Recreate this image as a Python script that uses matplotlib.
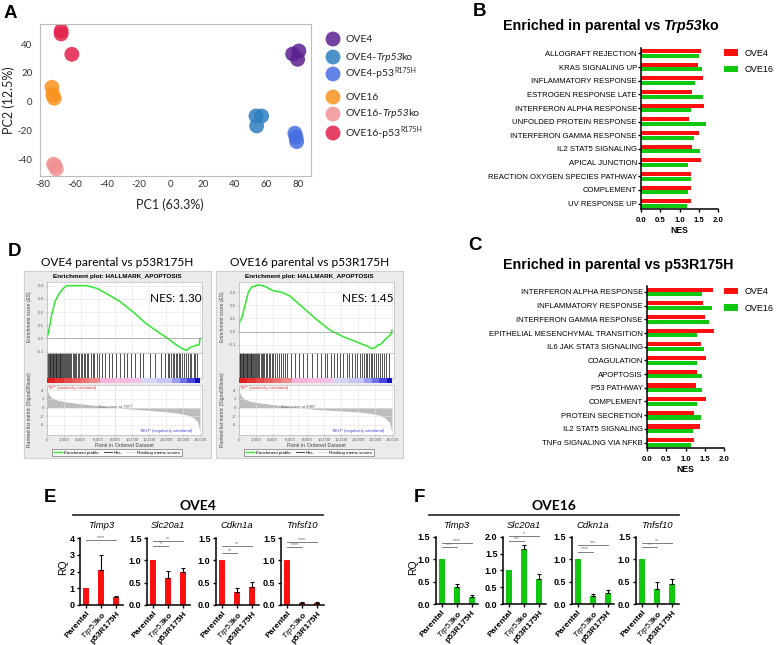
import matplotlib
matplotlib.use("Agg")
import matplotlib.pyplot as plt
import numpy as np
from matplotlib.lines import Line2D
from matplotlib.text import Annotation

plt.rcParams['font.family'] = 'Liberation Sans'
plt.rcParams['axes.unicode_minus'] = False
plt.rcParams['mathtext.fontset'] = 'custom'
plt.rcParams['mathtext.rm'] = 'Liberation Sans'
plt.rcParams['mathtext.it'] = 'Liberation Sans:italic'
plt.rcParams['mathtext.bf'] = 'Liberation Sans:bold'
plt.rcParams['mathtext.bfit'] = 'Liberation Sans:bold:italic'

W, H = 779, 645
fig = plt.figure(figsize=(W / 100, H / 100), dpi=100)


def box(x0, y0, x1, y1):
    # pixel box (top-left origin) -> figure fraction rect
    return [x0 / W, 1 - y1 / H, (x1 - x0) / W, (y1 - y0) / H]


def ftext(x, y, s, **kw):
    return fig.text(x / W, 1 - y / H, s, **kw)


def rich(x, y, parts, **kw):
    s0, p0 = parts[0]
    t = ftext(x, y, s0, va='center', ha='left', **{**kw, **p0})
    for s, p in parts[1:]:
        p = dict(p)
        off = p.pop('off', (0, 0))
        a = Annotation(s, xy=(1, 0), xycoords=t, xytext=off, textcoords='offset points',
                       va='bottom', ha='left', **{**kw, **p})
        fig.add_artist(a)
        t = a
    return t


# ---------------- data ----------------
# A: PCA
pca_groups = ['OVE4', 'OVE4-Trp53ko', 'OVE4-p53R175H', 'OVE16', 'OVE16-Trp53ko', 'OVE16-p53R175H']
pca_colors = ['#5b2190', '#2d7fbf', '#466ee2', '#f7921e', '#f19393', '#e2214a']
pc1 = [[76.5, 80.4, 79.6], [53.5, 57.0, 53.9], [77.9, 78.6, 79.0],
       [-74.6, -74.0, -73.2], [-73.6, -72.6, -71.9], [-68.8, -68.8, -62.1]]
pc2 = [[33.2, 35.3, 29.5], [-10.0, -10.0, -16.9], [-22.0, -24.8, -27.8],
       [10.0, 4.7, 2.4], [-43.6, -44.6, -46.9], [49.3, 47.2, 33.0]]

# B: parental vs Trp53ko
b_terms = ['ALLOGRAFT REJECTION', 'KRAS SIGNALING UP', 'INFLAMMATORY RESPONSE',
           'ESTROGEN RESPONSE LATE', 'INTERFERON ALPHA RESPONSE', 'UNFOLDED PROTEIN RESPONSE',
           'INTERFERON GAMMA RESPONSE', 'IL2 STAT5 SIGNALING', 'APICAL JUNCTION',
           'REACTION OXYGEN SPECIES PATHWAY', 'COMPLEMENT', 'UV RESPONSE UP']
b_ove4 = [1.57, 1.48, 1.62, 1.33, 1.63, 1.25, 1.50, 1.32, 1.55, 1.29, 1.30, 1.31]
b_ove16 = [1.50, 1.59, 1.41, 1.60, 1.31, 1.68, 1.37, 1.52, 1.21, 1.29, 1.21, 1.19]

# C: parental vs p53R175H
c_terms = ['INTERFERON ALPHA RESPONSE', 'INFLAMMATORY RESPONSE', 'INTERFERON GAMMA RESPONSE',
           'EPITHELIAL MESENCHYMAL TRANSITION', 'IL6 JAK STAT3 SIGNALING', 'COAGULATION',
           'APOPTOSIS', 'P53 PATHWAY', 'COMPLEMENT', 'PROTEIN SECRETION',
           'IL2 STAT5 SIGNALING', 'TNFα SIGNALING VIA NFKB']
c_ove4 = [1.72, 1.46, 1.51, 1.73, 1.39, 1.52, 1.30, 1.28, 1.52, 1.23, 1.37, 1.22]
c_ove16 = [1.44, 1.70, 1.61, 1.31, 1.49, 1.31, 1.44, 1.43, 1.31, 1.39, 1.19, 1.14]

# D: GSEA HALLMARK_APOPTOSIS
d4_rank = [0, 195, 586, 977, 1367, 1953, 2344, 3125, 4688, 5859, 7031, 8594, 10156,
           11719, 13281, 14453, 15234, 16016, 16406, 16800, 17188, 17578, 17890, 18000]
d4_es = [0.0, 0.04, 0.18, 0.28, 0.33, 0.38, 0.40, 0.40, 0.40, 0.38, 0.34, 0.28, 0.20,
         0.11, 0.04, -0.01, -0.05, -0.08, -0.09, -0.07, -0.06, -0.05, -0.05, 0.0]
d16_rank = [0, 120, 350, 740, 1130, 1530, 2310, 3090, 4070, 5060, 6040, 7600, 9180,
            10740, 12310, 13880, 15060, 15650, 16040, 16420, 16620, 17210, 17800, 18000]
d16_es = [0.0, 0.08, 0.10, 0.20, 0.30, 0.34, 0.356, 0.344, 0.31, 0.30, 0.27, 0.18, 0.09,
          0.01, -0.04, -0.08, -0.11, -0.13, -0.12, -0.10, -0.10, -0.06, -0.025, 0.01]
d4_hits = [50, 150, 260, 330, 420, 500, 610, 700, 790, 880, 960, 1050, 1130, 1240, 1320,
           1410, 1530, 1600, 1710, 1800, 1920, 2010, 2150, 2240, 2380, 2500, 2630, 2760,
           2900, 3050, 3180, 3330, 3470, 3620, 3800, 3980, 4150, 4340, 4520, 4700, 4900,
           5150, 5380, 5600, 5850, 6150, 6480, 6900, 7350, 7700, 8100, 8600, 9050, 9400,
           9900, 10400, 10900, 11300, 12100, 12700, 13400, 13900, 14200, 14400, 14600,
           14800, 14950, 15150, 15350, 15500, 15700, 15900, 16150, 16350, 16600, 16800,
           17000, 17250, 17450, 17650]
d16_hits = [30, 120, 210, 300, 390, 470, 560, 650, 740, 830, 920, 1010, 1110, 1200, 1300,
            1390, 1490, 1600, 1700, 1810, 1920, 2040, 2160, 2290, 2420, 2560, 2700, 2850,
            3000, 3160, 3330, 3500, 3680, 3870, 4060, 4260, 4470, 4690, 4920, 5160, 5420,
            5700, 6100, 6600, 7100, 7500, 8000, 8600, 9200, 9700, 10100, 10400, 10800,
            11200, 11500, 11900, 12300, 12700, 13000, 13300, 13600, 13900, 14200, 14500,
            14700, 14900, 15100, 15300, 15500, 15700, 15900, 16100, 16350, 16600, 16850,
            17100, 17350, 17600]
cbar_edges = [0, 1000, 2000, 3000, 4000, 5000, 6200, 8000, 10000, 11100, 13000, 14700,
              15600, 16500, 17400, 18000]
cbar_colors = ['#e21e1e', '#e53434', '#e84848', '#eb5e5e', '#ee7474', '#f18c8c', '#f5b4da',
               '#f4bde0', '#f0c2e8', '#d4d4f6', '#c6c6f4', '#9c9cf0', '#7070ea', '#4646e2',
               '#1010c4']
d4_mrank = [0, 100, 300, 600, 1000, 1500, 2500, 4000, 6000, 7977, 10000, 12000, 14000,
            15500, 16500, 17200, 17700, 18000]
d4_metric = [5.0, 3.8, 2.9, 2.3, 1.9, 1.6, 1.25, 0.9, 0.45, 0.0, -0.35, -0.65, -0.95,
             -1.3, -1.7, -2.3, -3.2, -5.5]
d16_mrank = [0, 100, 300, 600, 1000, 1500, 2500, 4000, 6000, 6987, 9000, 11500, 14000,
             15500, 16500, 17200, 17700, 18000]
d16_metric = [5.0, 3.6, 2.7, 2.1, 1.7, 1.4, 1.05, 0.7, 0.25, 0.0, -0.4, -0.7, -1.0,
              -1.35, -1.75, -2.4, -3.4, -5.8]

# E / F: qPCR
genes = ['Timp3', 'Slc20a1', 'Cdkn1a', 'Tnfsf10']
conds = ['Parental', r'$\mathit{Trp53}\mathbf{ko}$', 'p53R175H']
e_rq = [[1.0, 2.1, 0.47], [1.0, 0.6, 0.73], [1.0, 0.28, 0.41], [1.0, 0.05, 0.05]]
e_err = [[0, 0.9, 0.09], [0, 0.16, 0.1], [0, 0.1, 0.1], [0, 0.015, 0.015]]
e_ymax = [4, 1.5, 1.5, 1.5]
e_sig = [[(0, 2, 3.9, '****')],
         [(0, 1, 1.32, '*'), (0, 2, 1.44, '**')],
         [(0, 1, 1.17, '**'), (0, 2, 1.32, '**')],
         [(0, 1, 1.29, '****'), (0, 2, 1.40, '****')]]
f_rq = [[1.0, 0.37, 0.15], [1.0, 1.63, 0.73], [1.0, 0.18, 0.24], [1.0, 0.33, 0.45]]
f_err = [[0, 0.07, 0.05], [0, 0.11, 0.15], [0, 0.035, 0.07], [0, 0.15, 0.11]]
f_ymax = [1.5, 2.0, 1.5, 1.5]
f_sig = [[(0, 1, 1.26, '***'), (0, 2, 1.37, '****')],
         [(0, 1, 1.88, '***'), (0, 2, 2.03, '*')],
         [(0, 1, 1.17, '****'), (0, 2, 1.31, '***')],
         [(0, 1, 1.26, '**'), (0, 2, 1.37, '**')]]

# ---------------- panel letters ----------------
for letter, x, y in [('A', 4, 14), ('B', 473, 12), ('C', 468, 246), ('D', 8, 252),
                     ('E', 44, 497), ('F', 414, 497)]:
    ftext(x, y, letter, fontsize=13.5, fontweight='bold', va='center', ha='left')

# ---------------- A ----------------
ax = fig.add_axes(box(39.5, 24, 311, 176))
for xs, ys, c in zip(pc1, pc2, pca_colors):
    ax.scatter(xs, ys, s=115, color=c, alpha=0.85, edgecolors='none')
ax.set_xlim(-82.4, 88)
ax.set_ylim(-51.8, 54.1)
ax.set_xticks(range(-80, 81, 20))
ax.set_yticks(range(-40, 41, 20))
ax.tick_params(length=0, labelsize=7, labelcolor='#333333')
ax.tick_params(axis='x', pad=3)
ax.tick_params(axis='y', pad=5)
for lab in ax.get_xticklabels() + ax.get_yticklabels():
    lab.set_family('Lato')
for sp in ax.spines.values():
    sp.set_color('#bdbdbd')
ftext(170, 205, 'PC1 (63.3%)', family='Lato', fontsize=9, ha='center', va='center', color='#222222')
ftext(9, 100, 'PC2 (12.5%)', family='Lato', fontsize=9, ha='center', va='center',
      rotation=90, color='#222222')

lax = fig.add_axes(box(320, 28, 380, 145))
lax.set_xlim(320, 380)
lax.set_ylim(145, 28)
lax.axis('off')
leg_y = [39, 57, 74, 97, 114, 133]
for g, c, yy in zip(pca_groups, pca_colors, leg_y):
    lax.scatter([333], [yy], s=115, color=c, alpha=0.85, edgecolors='none', clip_on=False)
    cell, _, rest = g.partition('-')
    kw = dict(family='Lato', fontsize=7.5, color='#222222')
    if rest == 'Trp53ko':
        rich(345, yy, [(cell + '-', {}), ('Trp53', {'style': 'italic'}),
                       ('ko', {'off': (-0.8, 0)})], **kw)
    elif rest == 'p53R175H':
        rich(345, yy, [(cell + '-p53', {}), ('R175H', {'fontsize': 5, 'off': (0.3, 3.2)})], **kw)
    else:
        rich(345, yy, [(cell, {})], **kw)


# ---------------- B / C ----------------
def nes_panel(rect, terms, v4, v16, title_y, title_x, title_parts, leg_y):
    a = fig.add_axes(box(*rect))
    y = np.arange(len(terms))
    a.barh(y - 0.17, v4, height=0.3, color='#ff1010', label='OVE4')
    a.barh(y + 0.17, v16, height=0.3, color='#10c810', label='OVE16')
    a.set_ylim(len(terms) - 0.6, -0.4)
    a.set_xlim(0, 2)
    a.set_xticks([0, 0.5, 1.0, 1.5, 2.0])
    a.set_xticklabels(['0.0', '0.5', '1.0', '1.5', '2.0'], fontweight='bold', fontsize=5.6)
    a.set_yticks(y)
    a.set_yticklabels(terms, fontsize=5.6)
    a.tick_params(axis='y', length=2, width=1, pad=1)
    a.tick_params(axis='x', length=2.5, width=1, pad=3)
    for sp in ['top', 'right']:
        a.spines[sp].set_visible(False)
    for sp in ['left', 'bottom']:
        a.spines[sp].set_linewidth(1.1)
    a.set_xlabel('NES', fontweight='bold', fontsize=6.2, labelpad=2)
    a.legend(loc='upper left', bbox_to_anchor=(724 / W, 1 - leg_y / H), bbox_transform=fig.transFigure,
             frameon=False, fontsize=6.5, handlelength=1.5, handleheight=0.7, handletextpad=0.8,
             labelspacing=0.85, borderaxespad=0, borderpad=0)
    rich(title_x, title_y, title_parts, fontsize=10.3, fontweight='bold')
    return a


nes_panel((641, 48, 718, 209), b_terms, b_ove4, b_ove16, 26, 503,
          [('Enriched in parental vs', {}), ('Trp53', {'style': 'italic', 'off': (2.8, 0)}),
           ('ko', {'off': (-0.8, 0)})], 48.5)
nes_panel((647, 286.5, 724, 448), c_terms, c_ove4, c_ove16, 265, 503,
          [('Enriched in parental vs p53R175H', {})], 287)


# ---------------- D ----------------
def gsea(dx, rank, es, es_ylim, es_ticks, hits, mrank, metric, zero_cross, nes, title):
    bg = fig.add_axes(box(24 + dx, 271, 211 + dx, 458))
    bg.set_facecolor('#ebebeb')
    bg.set_xticks([])
    bg.set_yticks([])
    for sp in bg.spines.values():
        sp.set_color('#d0d0d0')
    ftext(117.5 + dx, 262, title, family='Lato', fontsize=8.6, ha='center', va='center')
    ftext(117.5 + dx, 276, 'Enrichment plot: HALLMARK_APOPTOSIS', fontsize=4.6,
          fontweight='bold', ha='center', va='center')

    e = fig.add_axes(box(46.7 + dx, 281.7, 201.7 + dx, 353))
    e.plot(rank, es, color='#2ee82e', lw=1.1)
    e.axhline(0, color='#9a9a9a', lw=0.5)
    e.set_xlim(0, 18200)
    e.set_ylim(*es_ylim)
    e.set_yticks(es_ticks)
    e.set_yticklabels(['%.1f' % t for t in es_ticks])
    e.set_xticks(range(0, 18001, 2000))
    e.set_xticklabels([])
    e.grid(color='#e4e4e4', lw=0.4)
    e.tick_params(length=1, width=0.4, labelsize=3.2, pad=1, colors='#666666')
    for sp in e.spines.values():
        sp.set_color('#bbbbbb')
        sp.set_linewidth(0.5)
    ftext(175.5 + dx, 298, 'NES: %s' % nes, family='Lato', fontsize=8.5, ha='center', va='center')

    h = fig.add_axes(box(46.7 + dx, 353, 201.7 + dx, 377.7))
    h.vlines(hits, 0, 1, color='#222222', lw=0.55)
    h.set_xlim(0, 18200)
    h.set_ylim(0, 1)
    h.set_xticks([])
    h.set_yticks([])
    for sp in h.spines.values():
        sp.set_color('#bbbbbb')
        sp.set_linewidth(0.5)

    cb = fig.add_axes(box(46.7 + dx, 377.7, 201.7 + dx, 383.3))
    cb.barh(0, np.diff(cbar_edges), left=cbar_edges[:-1], height=1, color=cbar_colors)
    cb.set_xlim(0, 18200)
    cb.set_ylim(-0.5, 0.5)
    cb.axis('off')

    r = fig.add_axes(box(46.7 + dx, 385, 201.7 + dx, 435))
    r.fill_between(mrank, metric, 0, color='#bdbdbd', lw=0)
    r.axvline(zero_cross, color='#bbbbbb', lw=0.4, ls=':')
    r.set_xlim(0, 18200)
    r.set_ylim(-6.3, 5.2)
    r.set_yticks([4, 2, 0, -2, -4])
    r.set_xticks(range(0, 18001, 2000))
    r.set_xticklabels(['0' if t == 0 else '{:,}'.format(t) for t in range(0, 18001, 2000)])
    r.grid(color='#e4e4e4', lw=0.4)
    r.tick_params(length=1, width=0.4, labelsize=3.2, pad=1, colors='#666666')
    r.set_xlabel('Rank in Ordered Dataset', fontsize=3.8, labelpad=1, color='#444444')
    for sp in r.spines.values():
        sp.set_color('#bbbbbb')
        sp.set_linewidth(0.5)
    r.text(200, 4.9, "'WT' (positively correlated)", color='#e03030', fontsize=3, va='top')
    r.text(zero_cross, 0.2, 'Zero cross at %d' % zero_cross, color='#555555', fontsize=3,
           ha='center', va='center')
    r.text(14000, -5.3, "'MUT' (negatively correlated)", color='#4040e0', fontsize=3,
           ha='center', va='center')

    ftext(30 + dx, 317, 'Enrichment score (ES)', fontsize=3.6, rotation=90, ha='center',
          va='center', color='#444444')
    ftext(30 + dx, 410, 'Ranked list metric (Signal2Noise)', fontsize=3.6, rotation=90,
          ha='center', va='center', color='#444444')

    handles = [Line2D([], [], color='#2ee82e', lw=1), Line2D([], [], color='#222222', lw=0.6),
               Line2D([], [], color='#d8d8d8', lw=0.6)]
    lg = r.legend(handles, ['Enrichment profile', 'Hits', 'Ranking metric scores'],
                  loc='center', bbox_to_anchor=((117 + dx) / W, 1 - 452.5 / H),
                  bbox_transform=fig.transFigure, ncol=3, fontsize=3.2, frameon=True,
                  fancybox=False, edgecolor='#555555', borderpad=0.4, handlelength=1.8,
                  columnspacing=1.3, handletextpad=0.4)
    lg.get_frame().set_linewidth(0.5)
    lg.get_frame().set_facecolor('white')


gsea(0, d4_rank, d4_es, (-0.11, 0.43), [0.4, 0.3, 0.2, 0.1, 0.0, -0.1], d4_hits,
     d4_mrank, d4_metric, 7977, '1.30', 'OVE4 parental vs p53R175H')
gsea(192, d16_rank, d16_es, (-0.163, 0.38), [0.3, 0.2, 0.1, 0.0, -0.1], d16_hits,
     d16_mrank, d16_metric, 6987, '1.45', 'OVE16 parental vs p53R175H')


# ---------------- E / F ----------------
def qpcr_row(xs, y_top, y_bot, vals, errs, ymaxs, sigs, color, head, head_x, line_x, rq_x):
    ftext(head_x, 506, head, family='Lato', fontsize=10, fontweight='bold', ha='center', va='center')
    fig.add_artist(Line2D([line_x[0] / W, line_x[1] / W], [1 - 515 / H, 1 - 515 / H],
                          color='#222222', lw=1.2))
    ftext(rq_x, 567, 'RQ', fontsize=7.5, rotation=90, ha='center', va='center')
    for x0, g, v, er, ym, sg in zip(xs, genes, vals, errs, ymaxs, sigs):
        a = fig.add_axes(box(x0, y_top, x0 + 42.75, y_bot))
        pos = np.arange(3)
        a.bar(pos, v, width=0.4, color=color)
        for i in range(3):
            if er[i] > 0:
                a.errorbar(pos[i], v[i], yerr=[[0], [er[i]]], fmt='none', ecolor='black',
                           elinewidth=0.8, capsize=1.6, capthick=0.8)
        for i, j, yy, lab in sg:
            a.plot([i, j], [yy, yy], color='#666666', lw=0.6, clip_on=False)
            a.text((i + j) / 2, yy, lab, color='#666666', fontsize=3.8, ha='center', va='bottom',
                   clip_on=False)
        a.set_xlim(-0.4, 2.45)
        a.set_ylim(0, ym)
        if ym == 4:
            a.set_yticks([0, 1, 2, 3, 4])
            a.set_yticklabels(['0', '1', '2', '3', '4'])
        else:
            t = np.arange(0, ym + 0.01, 0.5)
            a.set_yticks(t)
            a.set_yticklabels(['%.1f' % k for k in t])
        a.set_xticks(pos)
        a.set_xticklabels(conds, rotation=48, ha='right', rotation_mode='anchor')
        for lab in a.get_xticklabels():
            lab.set_fontweight('bold')
            lab.set_fontsize(6.0)
        for lab in a.get_yticklabels():
            lab.set_fontweight('bold')
            lab.set_fontsize(6.5)
        a.tick_params(length=2.5, width=1, pad=1.5)
        a.tick_params(axis='x', pad=1)
        for sp in ['top', 'right']:
            a.spines[sp].set_visible(False)
        for sp in ['left', 'bottom']:
            a.spines[sp].set_linewidth(1.1)
        ftext(x0 + 21, 526, g, fontsize=6.8, style='italic', ha='center', va='center')


qpcr_row([80, 147, 216, 281], 538, 605, e_rq, e_err, e_ymax, e_sig, '#ff1010', 'OVE4', 198, (73, 323), 63)
qpcr_row([435.7, 503, 571.7, 636], 536.7, 604, f_rq, f_err, f_ymax, f_sig, '#10c810', 'OVE16', 554,
         (429, 679), 412.7)

fig.savefig('out.png', dpi=100)
